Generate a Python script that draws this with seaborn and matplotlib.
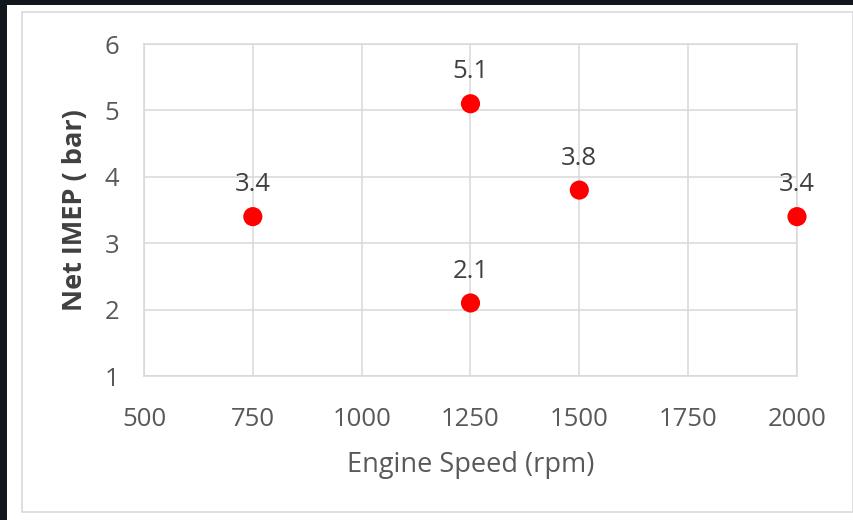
import matplotlib
matplotlib.use("Agg")
import matplotlib.pyplot as plt
import seaborn as sns
import pandas as pd
from matplotlib.patches import Rectangle

speed = [750, 1250, 1250, 1500, 2000]
imep = [3.4, 5.1, 2.1, 3.8, 3.4]
x_ticks = [500, 750, 1000, 1250, 1500, 1750, 2000]
y_ticks = [1, 2, 3, 4, 5, 6]

sns.set_theme(style="white")
plt.rcParams['font.family'] = ['Open Sans', 'DejaVu Sans']

W, H = 854, 520
fig = plt.figure(figsize=(W / 100, H / 100), dpi=100)
fig.patch.set_facecolor('white')
# dark frame on top and left edges, light chart border
fig.add_artist(Rectangle((0, 0), 7 / W, 1, transform=fig.transFigure,
                         facecolor='#12171e', edgecolor='none', zorder=-10))
fig.add_artist(Rectangle((0, 1 - 5 / H), 1, 5 / H, transform=fig.transFigure,
                         facecolor='#12171e', edgecolor='none', zorder=-10))
fig.add_artist(Rectangle((22 / W, 8 / H), (853 - 22) / W, (512 - 12) / H, transform=fig.transFigure,
                         facecolor='none', edgecolor='#d9d9d9', lw=1.2, zorder=-9))

ax = fig.add_axes([144 / W, 1 - 376 / H, (797 - 144) / W, (376 - 44) / H])
ax.set_facecolor('white')

df = pd.DataFrame({'speed': speed, 'imep': imep})
sns.scatterplot(data=df, x='speed', y='imep', ax=ax, color='#ff0000', s=190,
                edgecolor='none', zorder=3, legend=False, clip_on=False)

for xv, yv in zip(speed, imep):
    ax.annotate(f"{yv:.1f}", (xv, yv), xytext=(0, 23), textcoords='offset points',
                ha='center', va='center', fontsize=18.5, color='#404040')

ax.set_xlim(x_ticks[0], x_ticks[-1])
ax.set_ylim(y_ticks[0], y_ticks[-1])
ax.set_xticks(x_ticks)
ax.set_yticks(y_ticks)
ax.grid(True, color='#d9d9d9', lw=1.1)
ax.set_axisbelow(True)
for sp in ax.spines.values():
    sp.set_color('#d9d9d9')
    sp.set_linewidth(1.1)
ax.tick_params(axis='both', length=0, labelsize=18.5, labelcolor='#595959')
ax.tick_params(axis='x', pad=22)
ax.tick_params(axis='y', pad=18)

ax.set_xlabel('Engine Speed (rpm)', fontsize=19.5, color='#595959', labelpad=14)
ax.set_ylabel('Net IMEP ( bar)', fontsize=19.5, color='#404040', fontweight='bold', labelpad=12)

fig.savefig('out.png', dpi=100, facecolor=fig.get_facecolor())
